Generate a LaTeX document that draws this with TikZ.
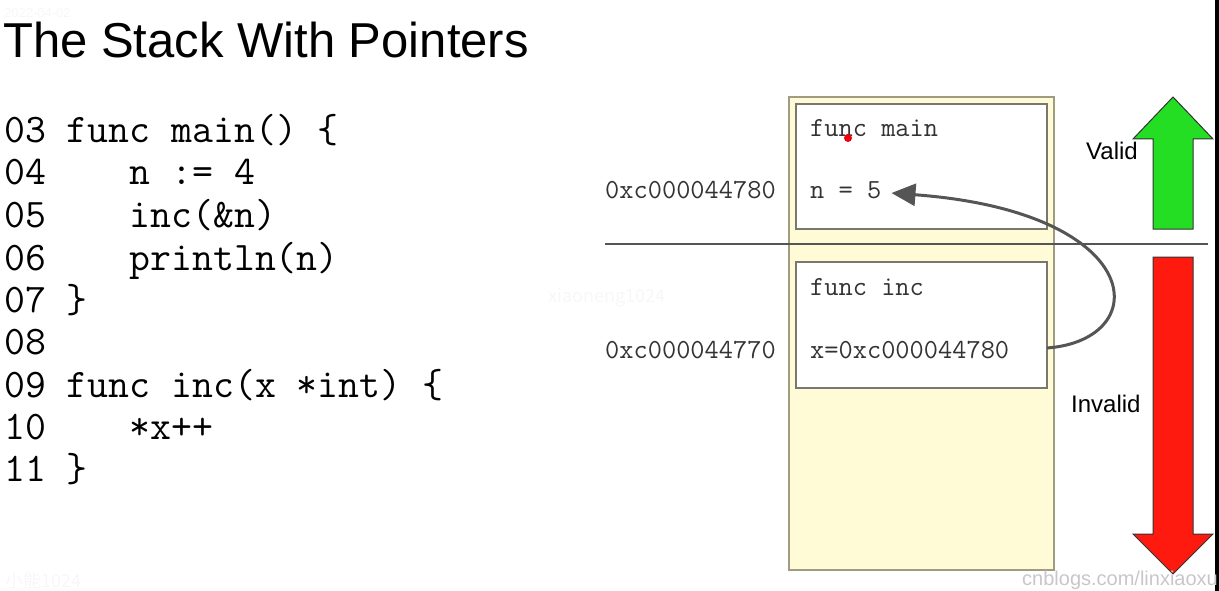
\documentclass[tikz,border=0pt]{standalone}
\usepackage{fontspec}
\setmainfont{Liberation Sans}
\newfontfamily\cjk{Noto Sans CJK SC}
\usetikzlibrary{arrows.meta}

\definecolor{stackyellow}{RGB}{255,251,214}
\definecolor{stackedge}{RGB}{160,156,128}
\definecolor{frameedge}{RGB}{120,120,110}
\definecolor{validgreen}{RGB}{36,222,36}
\definecolor{invalidred}{RGB}{255,26,15}
\definecolor{pointergray}{RGB}{85,85,85}

\begin{document}
\begin{tikzpicture}[x=1pt,y=-1pt,
  codeline/.style={anchor=base west,inner sep=0pt,font=\fontsize{40.6}{41}\ttfamily},
  slot/.style={anchor=base west,inner sep=0pt,font=\fontsize{27.6}{28}\ttfamily,text=black!80},
  frame/.style={draw=frameedge,line width=1.2pt,fill=white},
  watermark/.style={anchor=base west,inner sep=0pt,text=black!3}]
\useasboundingbox (0,0) rectangle (1219,591);

%title
\node [anchor=base west,inner sep=0pt,text height=36pt,font=\fontsize{49}{49}\selectfont] (title) at (3,58) {The Stack With Pointers};

%the code
\node [codeline] (code03) at (4,143) {03~func~main()~\{};
\node [codeline] (code04) at (4,185) {04~~~~n~:=~4};
\node [codeline] (code05) at (4,227) {05~~~~inc(\&n)};
\node [codeline] (code06) at (4,270) {06~~~~println(n)};
\node [codeline] (code07) at (4,312) {07~\}};
\node [codeline] (code08) at (4,354) {08};
\node [codeline] (code09) at (4,397) {09~func~inc(x~*int)~\{};
\node [codeline] (code10) at (4,439) {10~~~~*x++};
\node [codeline] (code11) at (4,481) {11~\}};

%the stack
\draw [draw=stackedge,line width=1.2pt,fill=stackyellow] (789,97) rectangle (1054,570);
\draw [frame] (796,104) rectangle (1047,229);
\draw [frame] (796,262) rectangle (1047,388);

\node [slot] (mainname) at (810,137) {func main};
\node [slot] (nval) at (810,198) {n = 5};
\node [slot] (incname) at (810,295) {func inc};
\node [slot] (xval) at (810,358) {x=0xc000044780};
\node [slot] (naddr) at (605,198) {0xc000044780};
\node [slot] (xaddr) at (605,358) {0xc000044770};
\fill [red!95!blue] (848,138) circle (4);

%boundary between valid and invalid frames
\coordinate (cutl) at (605,244);
\coordinate (cutr) at (1208,244);
\draw [pointergray,line width=2pt] (cutl) -- (cutr);

%the pointer
\coordinate (ptrfrom) at (1047,348);
\coordinate (ptrto) at ([shift={(10,-5)}]nval.base east);
\draw [pointergray,line width=3pt,-{Triangle[length=24pt,width=22pt]}]
  (ptrfrom) .. controls (1155,340) and (1148,212) .. (ptrto);

%valid / invalid arrows
\filldraw [fill=validgreen,draw=black!80,line width=1pt] (1153,229) -- (1153,139) -- (1133,139) -- (1173,97) -- (1213,139) -- (1193,139) -- (1193,229) -- cycle;
\filldraw [fill=invalidred,draw=black!80,line width=1pt] (1153,257) -- (1153,534) -- (1133,534) -- (1173,574) -- (1213,534) -- (1193,534) -- (1193,257) -- cycle;
\node [anchor=base west,inner sep=0pt,font=\fontsize{24}{24}\selectfont] (valid) at (1086,160) {Valid};
\node [anchor=base west,inner sep=0pt,font=\fontsize{24}{24}\selectfont] (invalid) at (1071,412) {Invalid};

\fill [black] (1215,0) rectangle (1219,591);

%watermarks
\node [watermark,font=\fontsize{13}{13}\selectfont] (date) at (4,18) {2022-04-02};
\node [watermark,font=\fontsize{18}{18}\cjk] (wm1) at (5,587) {小能1024};
\node [watermark,font=\fontsize{18}{18}\cjk] (wm2) at (548,302) {xiaoneng1024};
\node [watermark,font=\fontsize{20}{20}\selectfont,text=black!22] (wm3) at (1022,585) {cnblogs.com/linxiaoxu};

\end{tikzpicture}
\end{document}
